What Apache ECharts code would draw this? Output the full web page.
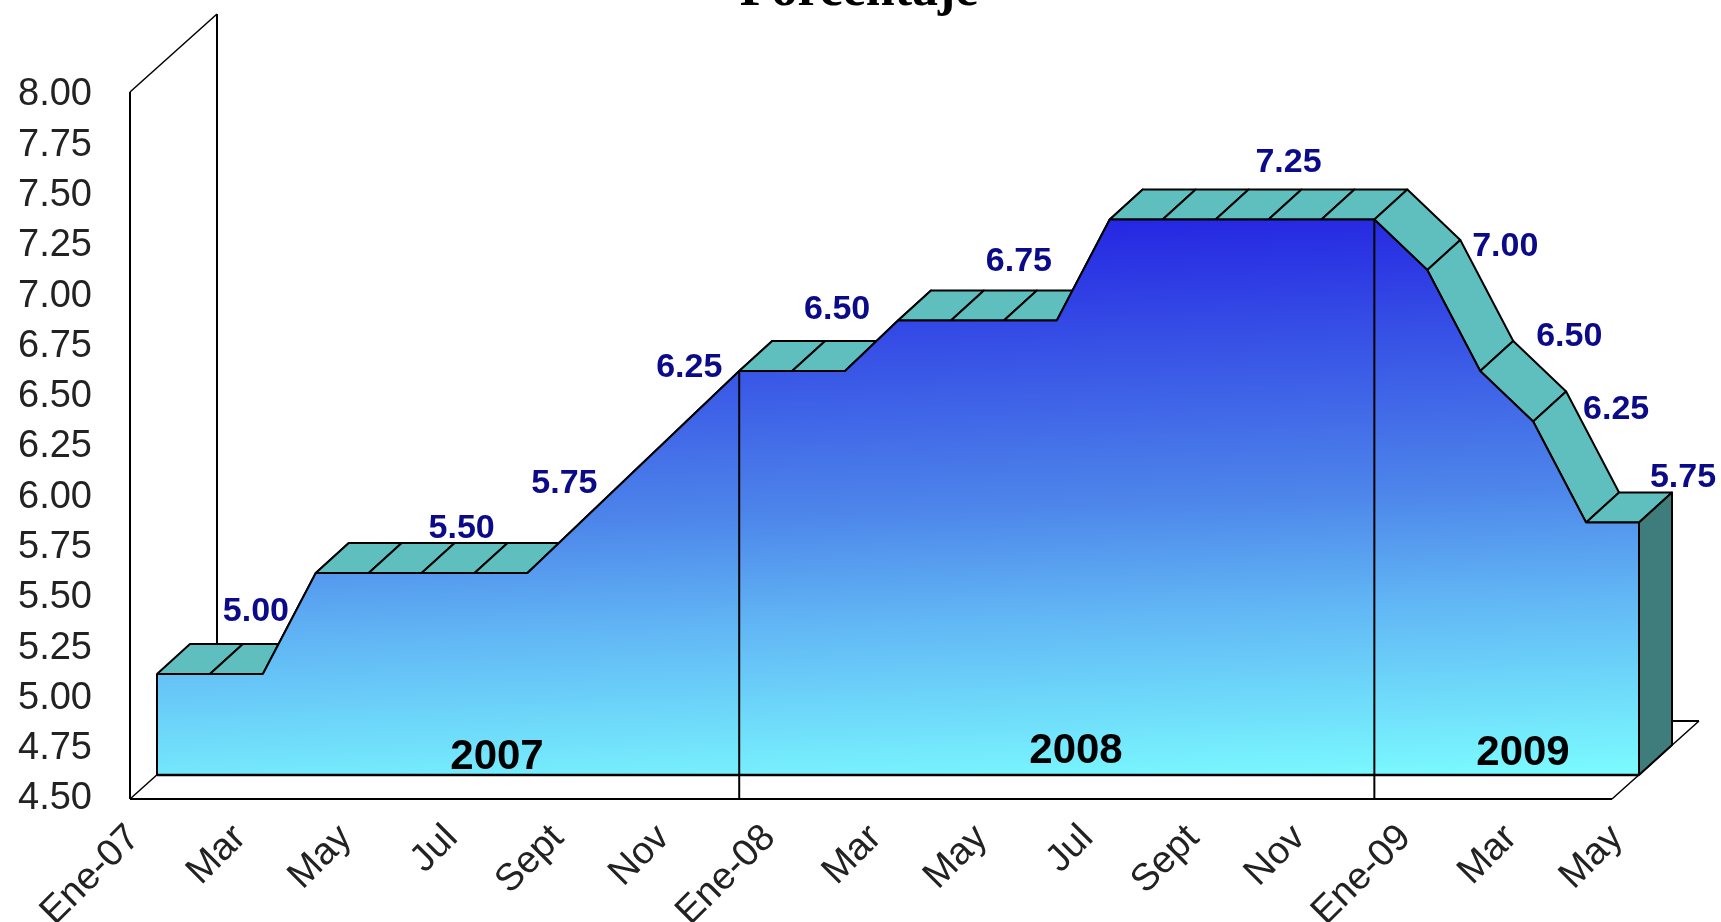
<!DOCTYPE html>
<html>
<head>
<meta charset="utf-8">
<style>
  html, body { margin: 0; padding: 0; background: #fff; }
  #chart { width: 1721px; height: 922px; }
</style>
<script src="https://cdn.jsdelivr.net/npm/echarts@6/dist/echarts.min.js"></script>
</head>
<body>
<div id="chart"></div>
<script>
// Monthly policy rate, January 2007 to May 2009
const months = [
  'Ene-07','Feb','Mar','Abr','May','Jun','Jul','Ago','Sept','Oct','Nov','Dic',
  'Ene-08','Feb','Mar','Abr','May','Jun','Jul','Ago','Sept','Oct','Nov','Dic',
  'Ene-09','Feb','Mar','Abr','May'
];
const rate = [
  5.00, 5.00, 5.00, 5.50, 5.50, 5.50, 5.50, 5.50, 5.75, 6.00, 6.25, 6.50,
  6.50, 6.50, 6.75, 6.75, 6.75, 6.75, 7.25, 7.25, 7.25, 7.25, 7.25, 7.25,
  7.00, 6.50, 6.25, 5.75, 5.75
];
const labelledMonths = [1, 5, 8, 10, 12, 16, 21, 24, 25, 26, 28];
const labelShift = [
  [46, -62], [40, -44], [-16, -39], [3, -54], [45, -61], [15, -59],
  [20, -57], [78, -23], [89, -34], [83, -12], [44, -45]
];
const yearBreaks = [11, 23];
const yearNames = ['2007', '2008', '2009'];
const yearCentres = [[497, 757], [1076, 751], [1523, 753]];

// Oblique offsets of the ribbon's back edge, the front plane and the rear wall
const RIBBON = [33, -30];
const FRONT = [-27, 24];
const REAR = [60, -54];

const ink = '#000';
const chart = echarts.init(document.getElementById('chart'));

const shift = (p, d) => [p[0] + d[0], p[1] + d[1]];
const segment = (a, b, w) => ({
  type: 'line',
  shape: { x1: a[0], y1: a[1], x2: b[0], y2: b[1] },
  style: { stroke: ink, lineWidth: w || 2 }
});
const polygon = (pts, fill) => ({
  type: 'polygon',
  shape: { points: pts },
  style: { fill: fill, stroke: ink, lineWidth: 2, lineJoin: 'round' }
});

// Walls and floor of the box behind the ribbon
function renderFrame(params, api) {
  const last = months.length - 1;
  const tl = api.coord([0, 8]);
  const bl = api.coord([0, 4.5]);
  const br = api.coord([last, 4.5]);
  return {
    type: 'group',
    children: [
      segment(shift(tl, REAR), shift(bl, REAR)),
      segment(shift(bl, REAR), shift(br, REAR)),
      segment(shift(tl, FRONT), shift(tl, REAR), 1.5),
      segment(shift(tl, FRONT), shift(bl, FRONT)),
      segment(shift(bl, FRONT), shift(br, FRONT)),
      segment(shift(bl, FRONT), shift(bl, REAR), 1.5),
      segment(shift(br, FRONT), shift(br, REAR), 1.5)
    ]
  };
}

// Top ribbon: one parallelogram per month-to-month step, plus the end face
function renderRibbon(params, api) {
  const i = api.value(0);
  const a = api.coord([i, rate[i]]);
  if (i === months.length - 1) {
    const foot = api.coord([i, 4.5]);
    return polygon([a, shift(a, RIBBON), shift(foot, RIBBON), foot], '#3f7c7c');
  }
  const b = api.coord([i + 1, rate[i + 1]]);
  return polygon([a, b, shift(b, RIBBON), shift(a, RIBBON)], '#5fbfbe');
}

// Outline of the front face and the year separators
function renderOutline(params, api) {
  const last = months.length - 1;
  const bl = api.coord([0, 4.5]);
  const br = api.coord([last, 4.5]);
  const children = [
    segment(api.coord([0, rate[0]]), bl),
    segment(api.coord([last, rate[last]]), br),
    segment(bl, br, 2.5)
  ];
  yearBreaks.forEach(function (m) {
    const foot = api.coord([m, 4.5]);
    children.push(segment(api.coord([m, rate[m]]), [foot[0], foot[1] + FRONT[1]]));
  });
  return { type: 'group', children: children };
}

chart.setOption({
  animation: false,
  backgroundColor: '#fff',
  title: {
    text: 'Porcentaje',
    left: 854,
    top: -39,
    textAlign: 'center',
    textStyle: { fontFamily: 'Liberation Serif', fontWeight: 'bold', fontSize: 52, color: '#000' }
  },
  grid: [
    { left: 157, top: 68, width: 1482, height: 707, outerBoundsMode: 'none' },
    { left: 134, top: 95, width: 1483, height: 704, outerBoundsMode: 'none' }
  ],
  xAxis: [
    { gridIndex: 0, type: 'category', data: months, boundaryGap: false, show: false },
    {
      gridIndex: 1,
      type: 'category',
      data: months,
      boundaryGap: false,
      axisLine: { show: false },
      axisTick: { show: false },
      axisLabel: {
        interval: 1,
        rotate: 45,
        margin: 33,
        fontFamily: 'Liberation Sans',
        fontSize: 38,
        color: '#222'
      }
    }
  ],
  yAxis: [
    { gridIndex: 0, type: 'value', min: 4.5, max: 8, interval: 0.25, show: false },
    {
      gridIndex: 1,
      type: 'value',
      min: 4.5,
      max: 8,
      interval: 0.25,
      axisLine: { show: false },
      axisTick: { show: false },
      splitLine: { show: false },
      axisLabel: {
        margin: 42,
        fontFamily: 'Liberation Sans',
        fontSize: 38,
        color: '#222',
        formatter: function (v) { return v.toFixed(2); }
      }
    }
  ],
  graphic: yearNames.map(function (name, i) {
    return {
      type: 'text',
      z: 100,
      x: yearCentres[i][0],
      y: yearCentres[i][1],
      style: {
        text: name,
        fill: '#000',
        font: 'bold 42px "Liberation Sans"',
        align: 'center',
        verticalAlign: 'middle'
      }
    };
  }),
  series: [
    {
      type: 'custom',
      name: 'frame',
      xAxisIndex: 0,
      yAxisIndex: 0,
      z: 1,
      silent: true,
      renderItem: renderFrame,
      data: [[0, 4.5]]
    },
    {
      type: 'custom',
      name: 'ribbon',
      xAxisIndex: 0,
      yAxisIndex: 0,
      z: 2,
      silent: true,
      renderItem: renderRibbon,
      encode: { x: 0, y: 1 },
      data: rate.map(function (v, i) { return [i, v]; })
    },
    {
      type: 'line',
      name: 'Porcentaje',
      xAxisIndex: 0,
      yAxisIndex: 0,
      z: 3,
      showSymbol: false,
      symbol: 'none',
      clip: false,
      lineStyle: { color: ink, width: 2 },
      areaStyle: {
        opacity: 1,
        color: new echarts.graphic.LinearGradient(0, 0.044, 0.0138, 1.09, [
          { offset: 0, color: '#2424e2' },
          { offset: 0.5, color: '#4d85ea' },
          { offset: 0.7, color: '#62b8f5' },
          { offset: 1, color: '#7bfbff' }
        ])
      },
      data: rate
    },
    {
      type: 'custom',
      name: 'outline',
      xAxisIndex: 0,
      yAxisIndex: 0,
      z: 4,
      silent: true,
      renderItem: renderOutline,
      data: [[0, 4.5]]
    },
    {
      type: 'scatter',
      name: 'labels',
      xAxisIndex: 0,
      yAxisIndex: 0,
      z: 5,
      symbolSize: 0,
      silent: true,
      itemStyle: { opacity: 1 },
      label: {
        show: true,
        position: 'inside',
        fontFamily: 'Liberation Sans',
        fontWeight: 'bold',
        fontSize: 34,
        color: '#0b0b8a',
        formatter: function (p) { return p.value[1].toFixed(2); }
      },
      data: labelledMonths.map(function (m, i) {
        return { value: [m, rate[m]], label: { offset: labelShift[i] } };
      })
    }
  ]
});
</script>
</body>
</html>
